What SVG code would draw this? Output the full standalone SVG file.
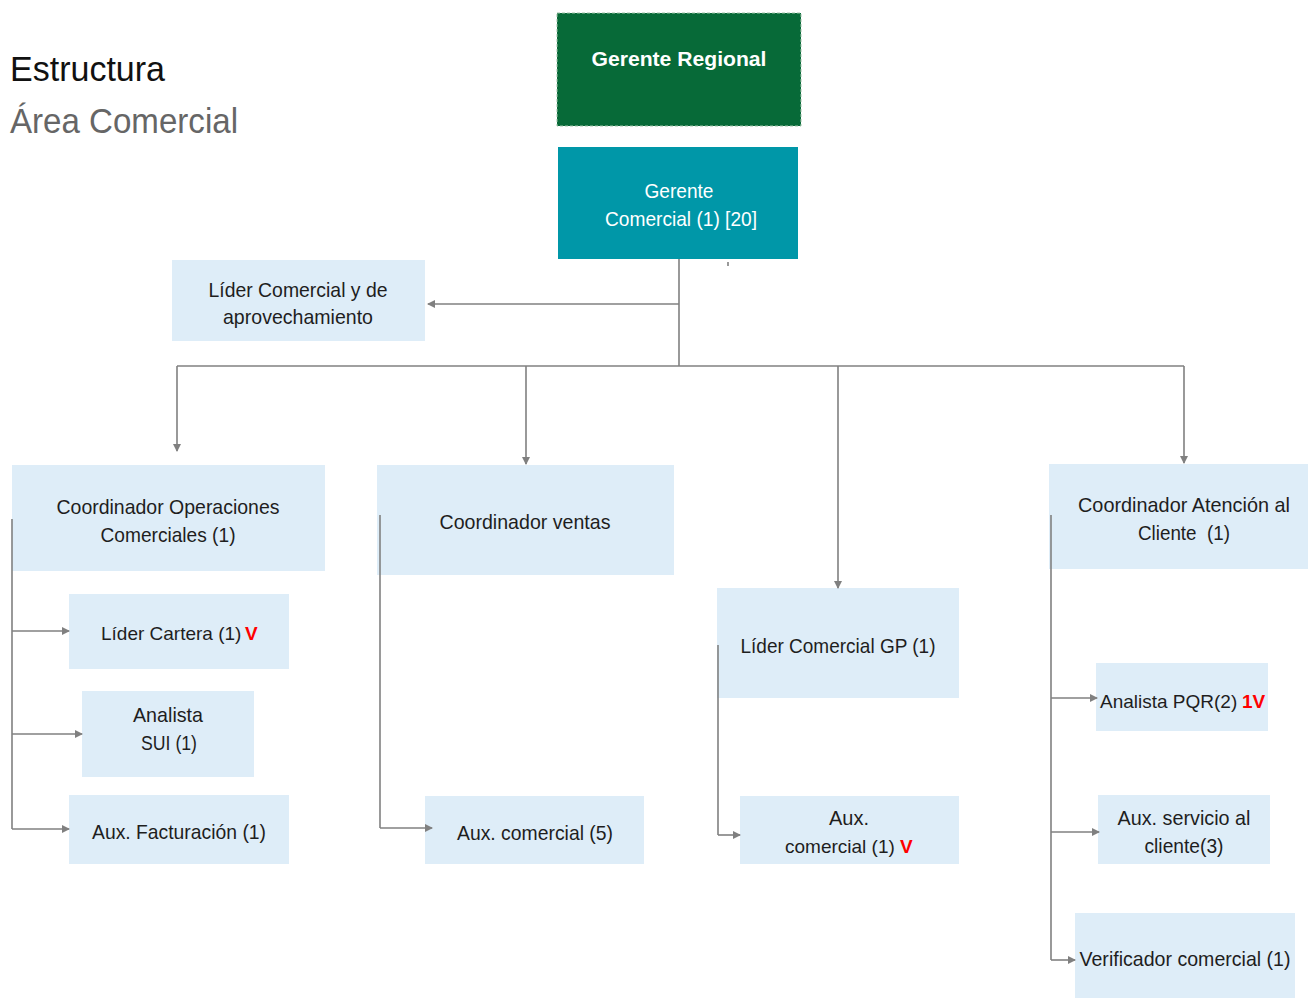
<svg xmlns="http://www.w3.org/2000/svg" width="1308" height="998" viewBox="0 0 1308 998">
<defs>
<marker id="ah" markerWidth="8" markerHeight="8" refX="7" refY="4" orient="auto" markerUnits="userSpaceOnUse">
<path d="M0,0 L8,4 L0,8 Z" fill="#808080"/>
</marker>
<style>
.box{fill:#deedf8}
.t{font-family:"Liberation Sans",Arial,sans-serif;font-size:21px;fill:#1e1e1e;text-anchor:middle}
.s{text-anchor:start;font-size:19px}
.w{fill:#ffffff}
.red{font-family:"Liberation Sans",Arial,sans-serif;font-size:19px;fill:#ff0000;font-weight:bold}
.c{fill:none;stroke:#808080;stroke-width:1.6}
.ca{fill:none;stroke:#808080;stroke-width:1.6;marker-end:url(#ah)}
</style>
</defs>
<rect width="1308" height="998" fill="#ffffff"/>
<g id="title">
<text x="10" y="81" font-family="Liberation Sans,Arial,sans-serif" font-size="35" fill="#111" textLength="155" lengthAdjust="spacingAndGlyphs">Estructura</text>
<text x="10" y="133" font-family="Liberation Sans,Arial,sans-serif" font-size="35" fill="#666" textLength="228" lengthAdjust="spacingAndGlyphs">Área Comercial</text>
</g>
<g id="gerente-regional">
<rect x="557" y="13" width="244" height="113" fill="#076a38" stroke="#9fc3a8" stroke-width="1" stroke-dasharray="3,2"/>
<text class="t w" x="679" y="66" font-weight="bold" font-size="22" textLength="175" lengthAdjust="spacingAndGlyphs">Gerente Regional</text>
</g>
<g id="gerente-comercial">
<rect x="558" y="147" width="240" height="112" fill="#0097a8"/>
<text class="t w" x="679" y="198" textLength="69" lengthAdjust="spacingAndGlyphs">Gerente</text>
<text class="t w" x="681" y="226" textLength="152" lengthAdjust="spacingAndGlyphs">Comercial (1) [20]</text>
</g>
<g id="lider-comercial-aprovechamiento">
<rect class="box" x="172" y="260" width="253" height="81"/>
<text class="t" x="298" y="297" textLength="179" lengthAdjust="spacingAndGlyphs">Líder Comercial y de</text>
<text class="t" x="298" y="324" textLength="150" lengthAdjust="spacingAndGlyphs">aprovechamiento</text>
</g>
<g id="coord-operaciones">
<rect class="box" x="12" y="465" width="313" height="106"/>
<text class="t" x="168" y="514" textLength="223" lengthAdjust="spacingAndGlyphs">Coordinador Operaciones</text>
<text class="t" x="168" y="542" textLength="135" lengthAdjust="spacingAndGlyphs">Comerciales (1)</text>
</g>
<g id="lider-cartera">
<rect class="box" x="69" y="594" width="220" height="75"/>
<text class="t s" x="101" y="640">Líder Cartera (1)</text>
<text class="red" x="245" y="640">V</text>
</g>
<g id="analista-sui">
<rect class="box" x="82" y="691" width="172" height="86"/>
<text class="t" x="168" y="722" textLength="70" lengthAdjust="spacingAndGlyphs">Analista</text>
<text class="t" x="169" y="750" textLength="56" lengthAdjust="spacingAndGlyphs">SUI (1)</text>
</g>
<g id="aux-facturacion">
<rect class="box" x="69" y="795" width="220" height="69"/>
<text class="t" x="179" y="839" textLength="174" lengthAdjust="spacingAndGlyphs">Aux. Facturación (1)</text>
</g>
<g id="coord-ventas">
<rect class="box" x="377" y="465" width="297" height="110"/>
<text class="t" x="525" y="529" textLength="171" lengthAdjust="spacingAndGlyphs">Coordinador ventas</text>
</g>
<g id="aux-comercial-5">
<rect class="box" x="425" y="796" width="219" height="68"/>
<text class="t" x="535" y="840" textLength="156" lengthAdjust="spacingAndGlyphs">Aux. comercial (5)</text>
</g>
<g id="lider-comercial-gp">
<rect class="box" x="717" y="588" width="242" height="110"/>
<text class="t" x="838" y="653" textLength="195" lengthAdjust="spacingAndGlyphs">Líder Comercial GP (1)</text>
</g>
<g id="aux-comercial-1">
<rect class="box" x="740" y="796" width="219" height="68"/>
<text class="t" x="849" y="825" textLength="40" lengthAdjust="spacingAndGlyphs">Aux.</text>
<text class="t s" x="785" y="853">comercial (1)</text>
<text class="red" x="900" y="853">V</text>
</g>
<g id="coord-atencion">
<rect class="box" x="1049" y="464" width="259" height="105"/>
<text class="t" x="1184" y="512" textLength="212" lengthAdjust="spacingAndGlyphs">Coordinador Atención al</text>
<text class="t" x="1184" y="540" textLength="92" lengthAdjust="spacingAndGlyphs" xml:space="preserve">Cliente  (1)</text>
</g>
<g id="analista-pqr">
<rect class="box" x="1096" y="663" width="172" height="68"/>
<text class="t s" x="1100" y="708">Analista PQR(2)</text>
<text class="red" x="1242" y="708">1V</text>
</g>
<g id="aux-servicio">
<rect class="box" x="1098" y="795" width="172" height="69"/>
<text class="t" x="1184" y="825" textLength="133" lengthAdjust="spacingAndGlyphs">Aux. servicio al</text>
<text class="t" x="1184" y="853" textLength="79" lengthAdjust="spacingAndGlyphs">cliente(3)</text>
</g>
<g id="verificador">
<rect class="box" x="1075" y="913" width="220" height="85"/>
<text class="t" x="1185" y="966" textLength="211" lengthAdjust="spacingAndGlyphs">Verificador comercial (1)</text>
</g>
<g id="connectors">
<path class="c" d="M679,259 V366"/>
<path class="ca" d="M679,304 H428"/>
<path class="c" d="M177,366 H1184"/>
<path class="ca" d="M177,366 V451"/>
<path class="ca" d="M526,366 V464"/>
<path class="ca" d="M838,366 V588"/>
<path class="ca" d="M1184,366 V463"/>
<path class="c" d="M728,262 V266"/>
<path class="c" d="M12,519 V829"/>
<path class="ca" d="M12,631 H69"/>
<path class="ca" d="M12,734 H82"/>
<path class="ca" d="M12,829 H69"/>
<path class="c" d="M380,515 V828"/>
<path class="ca" d="M380,828 H432"/>
<path class="c" d="M718,645 V835"/>
<path class="ca" d="M718,835 H740"/>
<path class="c" d="M1051,515 V960"/>
<path class="ca" d="M1051,698 H1097"/>
<path class="ca" d="M1051,832 H1099"/>
<path class="ca" d="M1051,960 H1075"/>
</g>
</svg>
